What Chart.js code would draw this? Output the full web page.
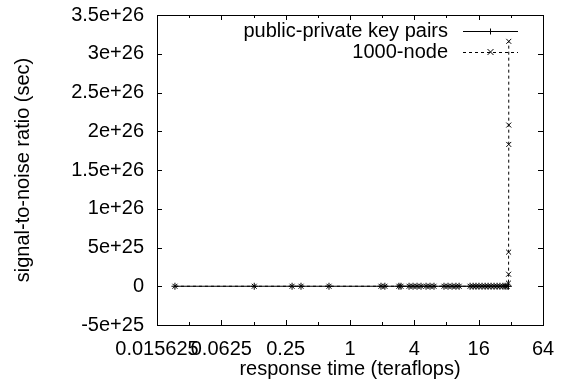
<!DOCTYPE html>
<html>
<head>
<meta charset="utf-8">
<script src="https://cdn.jsdelivr.net/npm/chart.js@4/dist/chart.umd.min.js"></script>
<style>
  body { margin: 0; background: #fff; }
  canvas { display: block; }
</style>
</head>
<body>
<canvas id="grafico" width="562" height="392"></canvas>
<script>
// dados
const tempos = [0.023, 0.127, 0.287, 0.348, 0.636, 1.95, 2.12, 2.87, 3.0, 3.57, 3.89, 4.24, 4.62, 5.15, 5.61, 6.11, 7.58, 8.27, 9.02, 9.8, 10.5, 13.3, 14.2, 15.1, 16.1, 17.2, 18.4, 19.6, 20.9, 22.3, 23.8, 25.3, 27.0, 28.3, 29.5, 30.4]
const chaves = [0, 0, 0, 0, 0, 0, 0, 0, 0, 0, 0, 0, 0, 0, 0, 0, 0, 0, 0, 0, 0, 0, 0, 0, 0, 0, 0, 0, 0, 0, 0, 0, 0, 0, 0, 0]

const temposNo = [0.023, 0.127, 0.287, 0.348, 0.636, 1.95, 2.12, 2.87, 3.0, 3.57, 3.89, 4.24, 4.62, 5.15, 5.61, 6.11, 7.58, 8.27, 9.02, 9.8, 10.5, 13.3, 14.2, 15.1, 16.1, 17.2, 18.4, 19.6, 20.9, 22.3, 23.8, 25.3, 27.0, 28.3, 29.5, 30.4, 30.5, 30.5, 30.6, 30.6, 30.6]
const valoresNo = [0, 0, 0, 0, 0, 0, 0, 0, 0, 0, 0, 0, 0, 0, 0, 0, 0, 0, 0, 0, 0, 0, 0, 0, 0, 0, 0, 0, 0, 0, 0, 0, 0, 0, 0, 4e24, 1.55e25, 4.4e25, 1.83e26, 2.08e26, 3.16e26]

const xTicks = [0.015625, 0.03125, 0.0625, 0.125, 0.25, 0.5, 1, 2, 4, 8, 16, 32, 64]
const xLabels = ['0.015625', '', '0.0625', '', '0.25', '', '1', '', '4', '', '16', '', '64']
const yTicks = [-5e25, 0, 5e25, 1e26, 1.5e26, 2e26, 2.5e26, 3e26, 3.5e26]
const yLabels = ['-5e+25', '0', '5e+25', '1e+26', '1.5e+26', '2e+26', '2.5e+26', '3e+26', '3.5e+26']

const fonte = 'Liberation Sans, Arial, Helvetica, sans-serif'

function pontos(xs, ys) {
    return xs.map((x, i) => ({ x: x, y: ys[i] }))
}

// moldura + ticks para dentro (estilo gnuplot)
const moldura = {
    id: 'moldura',
    beforeDatasetsDraw(chart) {
        const ctx = chart.ctx
        const a = chart.chartArea
        const sx = chart.scales.x
        const sy = chart.scales.y
        ctx.save()
        ctx.strokeStyle = '#000'
        ctx.lineWidth = 1
        ctx.beginPath()
        xTicks.forEach((v, i) => {
            const px = Math.round(sx.getPixelForValue(v)) + 0.5
            const len = xLabels[i] ? 5 : 3
            ctx.moveTo(px, a.bottom); ctx.lineTo(px, a.bottom - len)
            ctx.moveTo(px, a.top); ctx.lineTo(px, a.top + len)
        })
        yTicks.forEach(v => {
            const py = Math.round(sy.getPixelForValue(v)) + 0.5
            ctx.moveTo(a.left, py); ctx.lineTo(a.left + 5, py)
            ctx.moveTo(a.right, py); ctx.lineTo(a.right - 5, py)
        })
        ctx.stroke()
        ctx.strokeRect(Math.round(a.left) + 0.5, Math.round(a.top) + 0.5, Math.round(a.right - a.left), Math.round(a.bottom - a.top))
        ctx.restore()
    },
    afterDraw(chart) {
        // legenda: texto à esquerda, amostra à direita
        const ctx = chart.ctx
        ctx.save()
        ctx.font = '20px ' + fonte
        ctx.textAlign = 'right'
        ctx.textBaseline = 'middle'
        chart.data.datasets.forEach((ds, i) => {
            const y = 31 + i * 21
            ctx.fillStyle = '#000'
            ctx.fillText(ds.label, 448, y)
            ctx.strokeStyle = '#000'
            ctx.lineWidth = 1
            ctx.setLineDash(ds.borderDash || [])
            ctx.beginPath()
            ctx.moveTo(463, y + 0.5); ctx.lineTo(518, y + 0.5)
            ctx.stroke()
            ctx.setLineDash([])
            ctx.beginPath()
            const cx = 490.5, r = 3
            if (ds.pointStyle === 'cross') {
                ctx.moveTo(cx - r, y + 0.5); ctx.lineTo(cx + r, y + 0.5)
                ctx.moveTo(cx, y + 0.5 - r); ctx.lineTo(cx, y + 0.5 + r)
            } else {
                ctx.moveTo(cx - r, y - r); ctx.lineTo(cx + r, y + r)
                ctx.moveTo(cx - r, y + r); ctx.lineTo(cx + r, y - r)
            }
            ctx.stroke()
        })
        ctx.restore()
    }
}

new Chart(document.getElementById('grafico'), {
    type: 'scatter',
    data: {
        datasets: [
            {
                label: 'public-private key pairs',
                data: pontos(tempos, chaves),
                showLine: true,
                borderColor: '#000',
                backgroundColor: '#000',
                borderWidth: 1,
                pointStyle: 'cross',
                pointRadius: 3.5,
                pointBorderWidth: 1
            },
            {
                label: '1000-node',
                data: pontos(temposNo, valoresNo),
                showLine: true,
                borderColor: '#000',
                backgroundColor: '#000',
                borderWidth: 1,
                borderDash: [3, 3],
                pointStyle: 'crossRot',
                pointRadius: 3.5,
                pointBorderWidth: 1
            }
        ]
    },
    options: {
        responsive: false,
        animation: false,
        layout: { padding: { top: 15, right: 19, left: 0, bottom: 0 } },
        plugins: {
            legend: { display: false },
            tooltip: { enabled: false }
        },
        scales: {
            x: {
                type: 'logarithmic',
                min: 0.015625,
                max: 64,
                afterBuildTicks: s => { s.ticks = xTicks.map(v => ({ value: v })) },
                afterFit: s => { s.height = 67; s.paddingLeft = 0; s.paddingRight = 0 },
                grid: { display: false, drawTicks: false },
                border: { display: false },
                ticks: {
                    autoSkip: false,
                    maxRotation: 0,
                    padding: 12,
                    color: '#000',
                    font: { family: fonte, size: 20 },
                    callback: (v, i) => xLabels[i]
                },
                title: {
                    display: true,
                    text: 'response time (teraflops)',
                    color: '#000',
                    font: { family: fonte, size: 20 },
                    padding: { top: 0, bottom: 11 }
                }
            },
            y: {
                min: -5e25,
                max: 3.5e26,
                afterBuildTicks: s => { s.ticks = yTicks.map(v => ({ value: v })) },
                afterFit: s => { s.width = 157; s.paddingTop = 0; s.paddingBottom = 0 },
                grid: { display: false, drawTicks: false },
                border: { display: false },
                ticks: {
                    padding: 13,
                    color: '#000',
                    font: { family: fonte, size: 20 },
                    callback: (v, i) => yLabels[i]
                },
                title: {
                    display: true,
                    text: 'signal-to-noise ratio (sec)',
                    color: '#000',
                    font: { family: fonte, size: 20 },
                    padding: { top: 11, bottom: 0 }
                }
            }
        }
    },
    plugins: [moldura]
})
</script>
</body>
</html>
